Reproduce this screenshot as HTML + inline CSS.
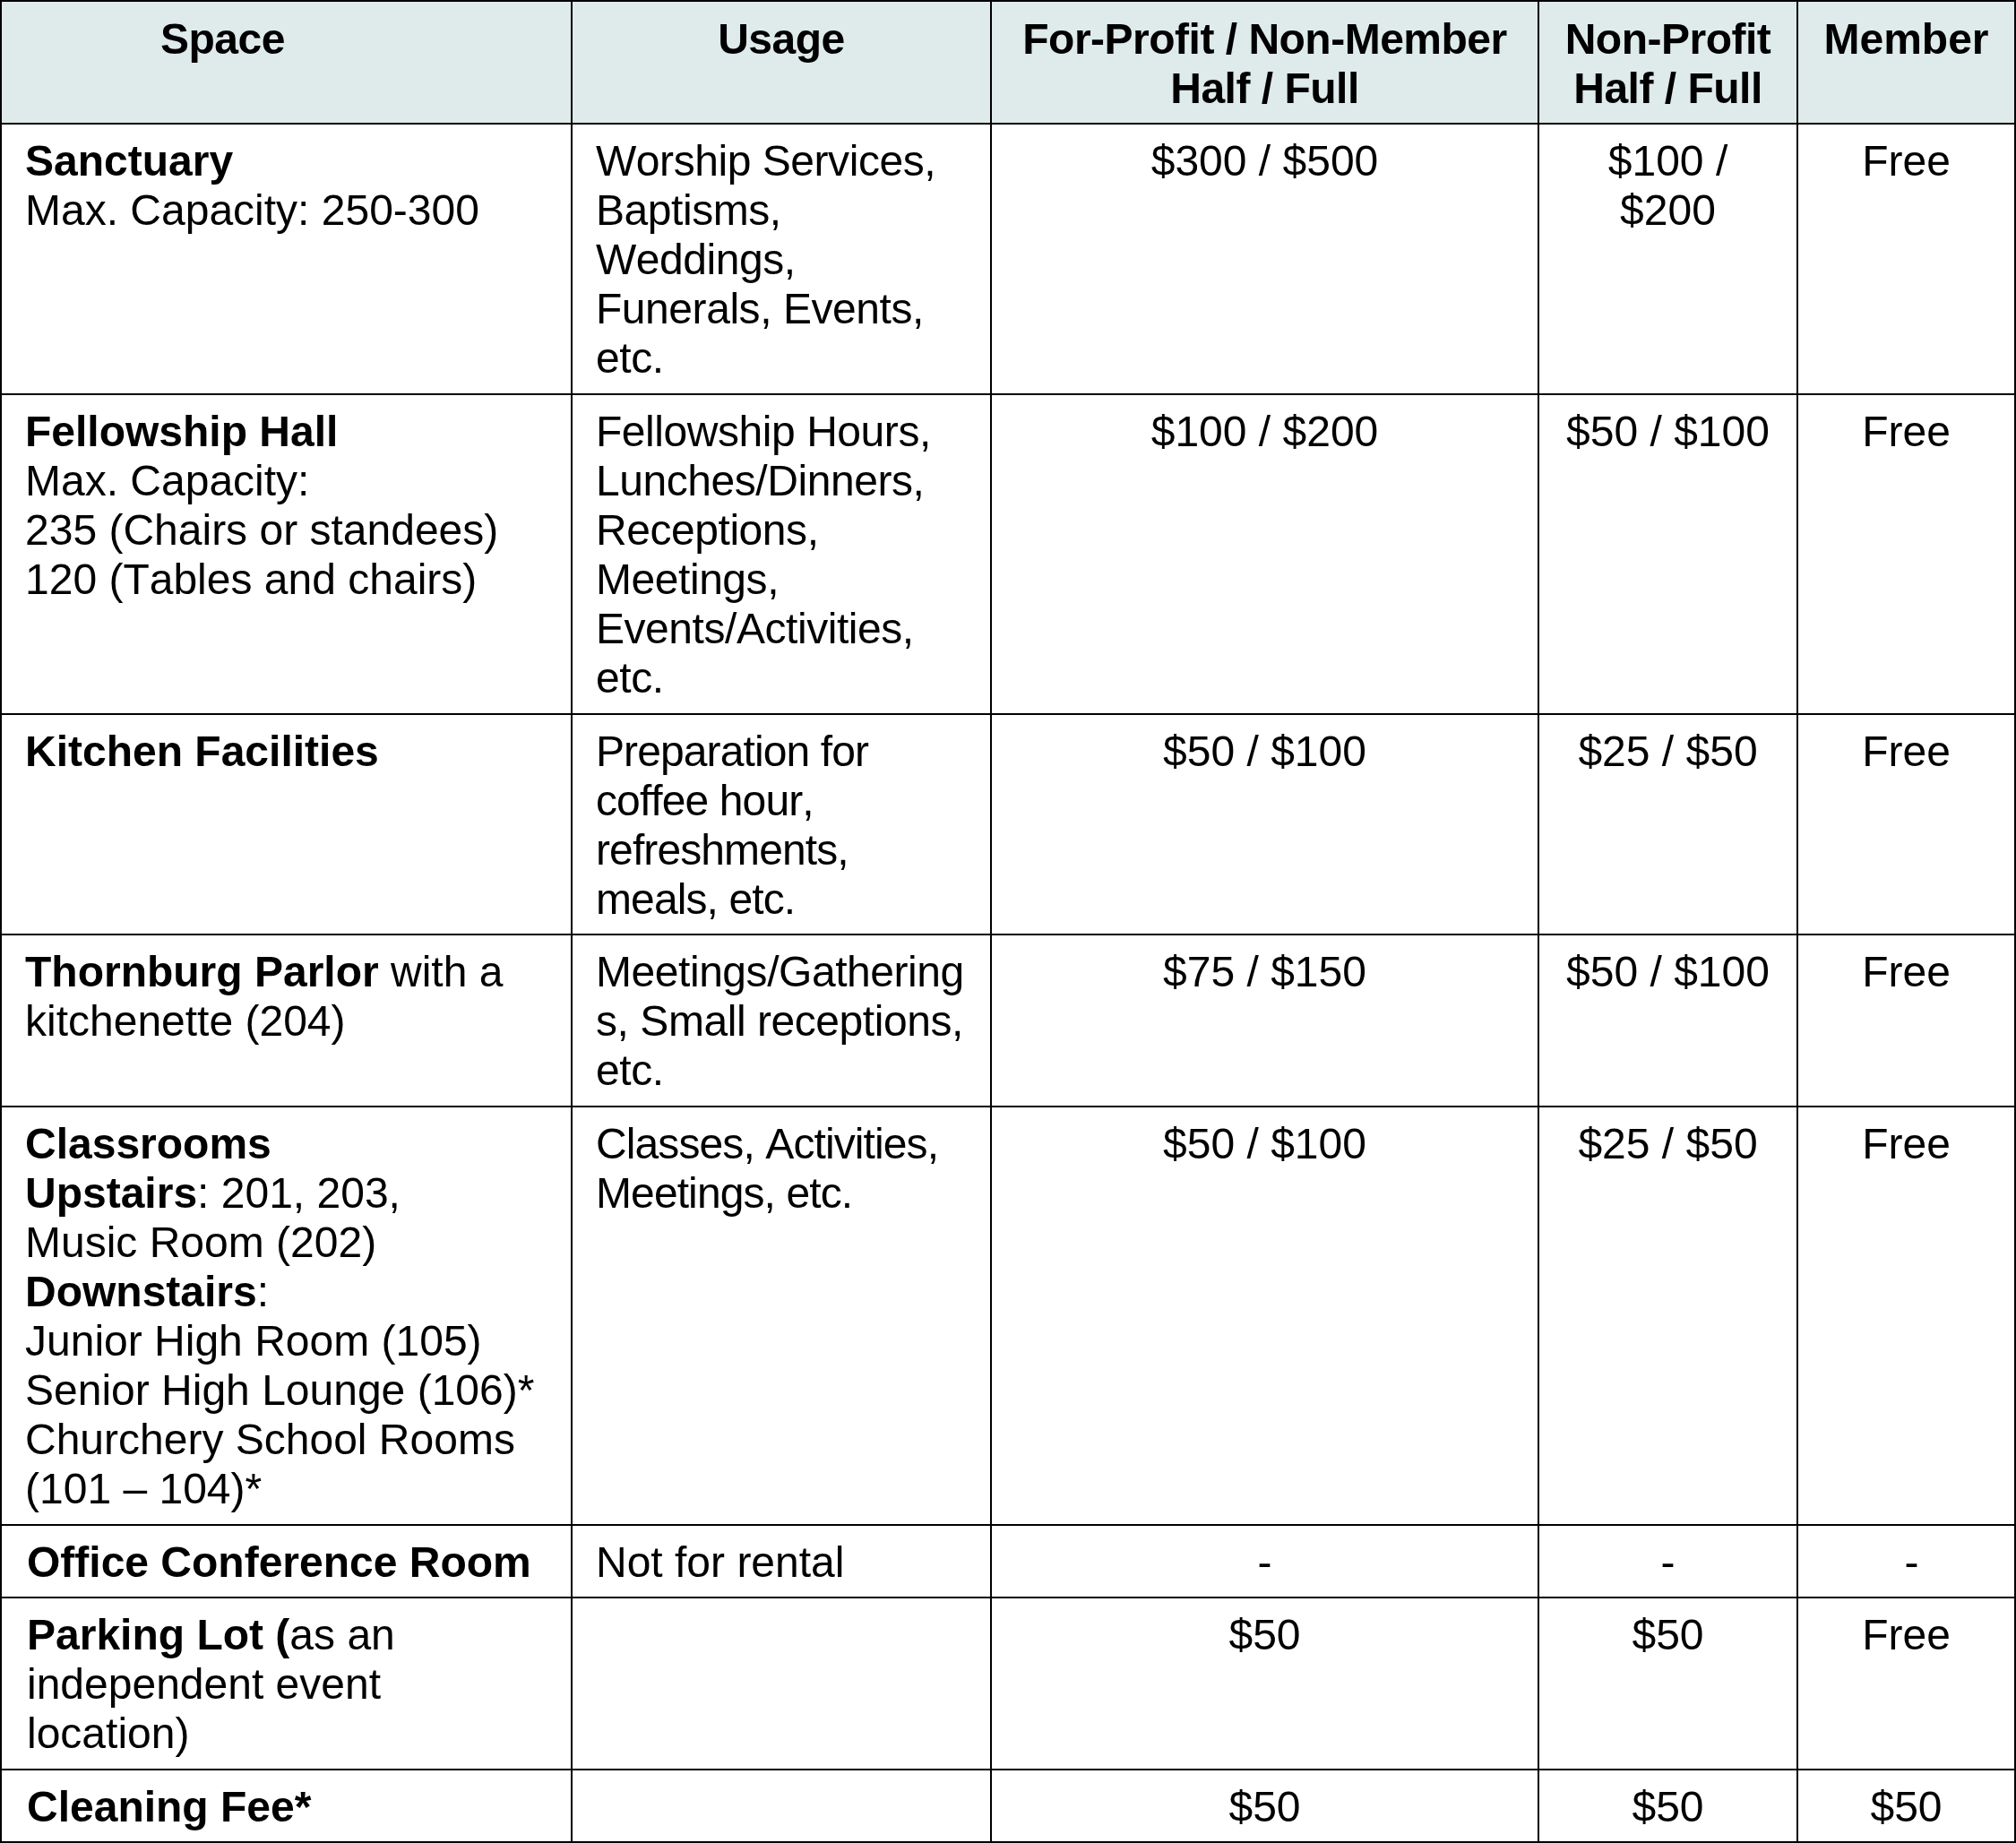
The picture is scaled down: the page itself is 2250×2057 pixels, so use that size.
<!DOCTYPE html>
<html><head><meta charset="utf-8"><style>
html,body{margin:0;padding:0;background:#fff;}
body{width:2250px;height:2057px;position:relative;overflow:hidden;font-kerning:none;font-family:"Liberation Sans",sans-serif;font-size:48px;line-height:55px;color:#000;}
.l{position:absolute;background:#000;}
.t{position:absolute;white-space:nowrap;filter:grayscale(1);}
.c{text-align:center;}
b{font-weight:bold;}
</style></head><body>

<div style="position:absolute;left:0;top:0;width:2250px;height:137px;background:#dfeaea"></div>
<div class="t c" style="left:-69px;top:16px;width:635px;letter-spacing:-0.5px"><b>Space</b></div>
<div class="t c" style="left:639px;top:16px;width:466px;letter-spacing:-0.5px"><b>Usage</b></div>
<div class="t c" style="left:1107px;top:16px;width:609px;letter-spacing:-0.5px"><b>For-Profit / Non-Member<br>Half / Full</b></div>
<div class="t c" style="left:1718px;top:16px;width:287px;letter-spacing:-0.5px"><b>Non-Profit<br>Half / Full</b></div>
<div class="t c" style="left:2007px;top:16px;width:241px;"><b>Member</b></div>
<div class="t" style="left:28px;top:152px;"><b>Sanctuary</b><br>Max. Capacity: 250-300</div>
<div class="t" style="left:665px;top:152px;letter-spacing:-0.45px">Worship Services,<br>Baptisms,<br>Weddings,<br>Funerals, Events,<br>etc.</div>
<div class="t c" style="left:1107px;top:152px;width:609px;">$300 / $500</div>
<div class="t c" style="left:1718px;top:152px;width:287px;">$100 /<br>$200</div>
<div class="t c" style="left:2007px;top:152px;width:241px;">Free</div>
<div class="t" style="left:28px;top:454px;"><b>Fellowship Hall</b><br>Max. Capacity:<br>235 (Chairs or standees)<br>120 (Tables and chairs)</div>
<div class="t" style="left:665px;top:454px;letter-spacing:-0.45px">Fellowship Hours,<br>Lunches/Dinners,<br>Receptions,<br>Meetings,<br>Events/Activities,<br>etc.</div>
<div class="t c" style="left:1107px;top:454px;width:609px;">$100 / $200</div>
<div class="t c" style="left:1718px;top:454px;width:287px;">$50 / $100</div>
<div class="t c" style="left:2007px;top:454px;width:241px;">Free</div>
<div class="t" style="left:28px;top:811px;"><b>Kitchen Facilities</b></div>
<div class="t" style="left:665px;top:811px;letter-spacing:-0.9px">Preparation for<br>coffee hour,<br>refreshments,<br>meals, etc.</div>
<div class="t c" style="left:1107px;top:811px;width:609px;">$50 / $100</div>
<div class="t c" style="left:1718px;top:811px;width:287px;">$25 / $50</div>
<div class="t c" style="left:2007px;top:811px;width:241px;">Free</div>
<div class="t" style="left:28px;top:1057px;"><b>Thornburg Parlor</b> with a<br>kitchenette (204)</div>
<div class="t" style="left:665px;top:1057px;letter-spacing:-0.45px">Meetings/Gathering<br>s, Small receptions,<br>etc.</div>
<div class="t c" style="left:1107px;top:1057px;width:609px;">$75 / $150</div>
<div class="t c" style="left:1718px;top:1057px;width:287px;">$50 / $100</div>
<div class="t c" style="left:2007px;top:1057px;width:241px;">Free</div>
<div class="t" style="left:28px;top:1249px;"><b>Classrooms</b><br><b>Upstairs</b>: 201, 203,<br>Music Room (202)<br><b>Downstairs</b>:<br>Junior High Room (105)<br>Senior High Lounge (106)*<br>Churchery School Rooms<br>(101 &ndash; 104)*</div>
<div class="t" style="left:665px;top:1249px;letter-spacing:-0.9px">Classes, Activities,<br>Meetings, etc.</div>
<div class="t c" style="left:1107px;top:1249px;width:609px;">$50 / $100</div>
<div class="t c" style="left:1718px;top:1249px;width:287px;">$25 / $50</div>
<div class="t c" style="left:2007px;top:1249px;width:241px;">Free</div>
<div class="t" style="left:30px;top:1716px;"><b>Office Conference Room</b></div>
<div class="t" style="left:665px;top:1716px;">Not for rental</div>
<div class="t c" style="left:1107px;top:1716px;width:609px;">-</div>
<div class="t c" style="left:1718px;top:1716px;width:287px;">-</div>
<div class="t c" style="left:2013px;top:1716px;width:241px;">-</div>
<div class="t" style="left:30px;top:1797px;"><b>Parking Lot (</b>as an<br>independent event<br>location)</div>
<div class="t c" style="left:1107px;top:1797px;width:609px;">$50</div>
<div class="t c" style="left:1718px;top:1797px;width:287px;">$50</div>
<div class="t c" style="left:2007px;top:1797px;width:241px;">Free</div>
<div class="t" style="left:30px;top:1989px;"><b>Cleaning Fee*</b></div>
<div class="t c" style="left:1107px;top:1989px;width:609px;">$50</div>
<div class="t c" style="left:1718px;top:1989px;width:287px;">$50</div>
<div class="t c" style="left:2007px;top:1989px;width:241px;">$50</div>
<div class="l" style="left:0px;top:0;width:2px;height:2057px"></div>
<div class="l" style="left:637px;top:0;width:2px;height:2057px"></div>
<div class="l" style="left:1105px;top:0;width:2px;height:2057px"></div>
<div class="l" style="left:1716px;top:0;width:2px;height:2057px"></div>
<div class="l" style="left:2005px;top:0;width:2px;height:2057px"></div>
<div class="l" style="left:2248px;top:0;width:2px;height:2057px"></div>
<div class="l" style="left:0;top:0px;width:2250px;height:2px"></div>
<div class="l" style="left:0;top:137px;width:2250px;height:2px"></div>
<div class="l" style="left:0;top:439px;width:2250px;height:2px"></div>
<div class="l" style="left:0;top:796px;width:2250px;height:2px"></div>
<div class="l" style="left:0;top:1042px;width:2250px;height:2px"></div>
<div class="l" style="left:0;top:1234px;width:2250px;height:2px"></div>
<div class="l" style="left:0;top:1701px;width:2250px;height:2px"></div>
<div class="l" style="left:0;top:1782px;width:2250px;height:2px"></div>
<div class="l" style="left:0;top:1974px;width:2250px;height:2px"></div>
<div class="l" style="left:0;top:2055px;width:2250px;height:2px"></div>
</body></html>
